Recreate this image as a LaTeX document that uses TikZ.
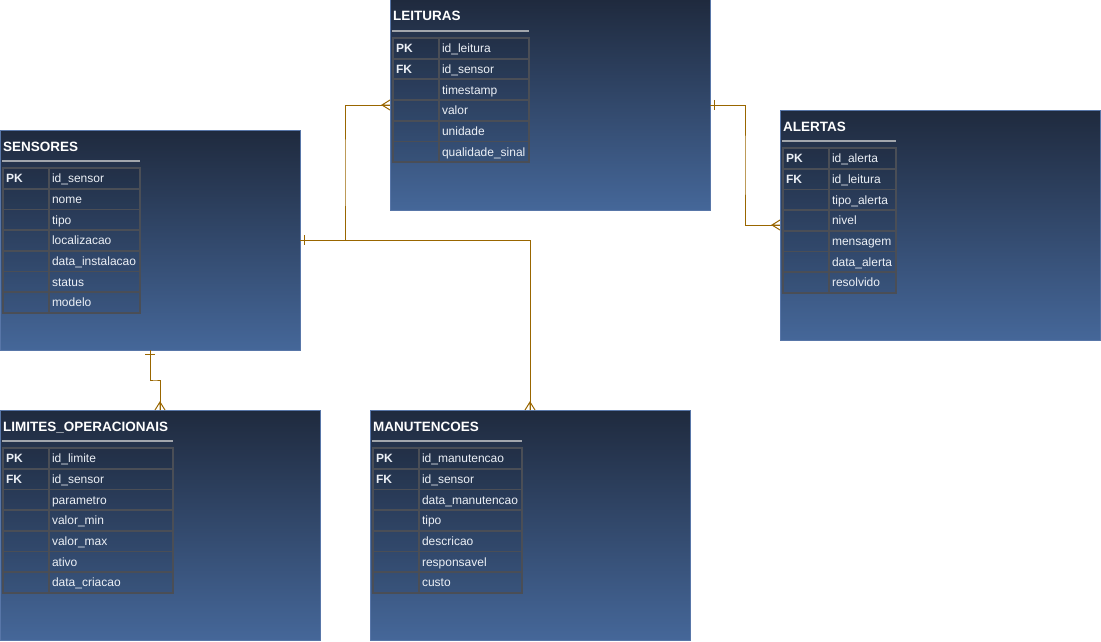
\documentclass[tikz,border=0pt]{standalone}
\usepackage{fontspec}
\setmainfont{Liberation Sans}
\usetikzlibrary{calc}

\definecolor{erTop}{RGB}{31,42,62}
\definecolor{erBottom}{RGB}{69,103,153}
\definecolor{erBorder}{RGB}{88,118,168}
\definecolor{erGrid}{RGB}{74,78,86}
\definecolor{erRule}{RGB}{162,166,172}
\definecolor{erText}{RGB}{236,240,246}
\definecolor{erLine}{RGB}{153,102,0}

% table: name, x, y, width, height, title, field column width, key/field list
\newcommand{\erTable}[8]{%
  \node[erBox,minimum width=#4,minimum height=#5] (#1) at (#2,#3) {};
  \node[erTitle] (#1-title) at ($(#1.north west)+(3,21)$) {#6};
  \draw[erRuleLine] ($(#1.north west)+(2,31)$) -- ++({#7+47},0);
  \pgfmathsetmacro\erTw{#7-6}
  \foreach \k/\f [count=\i] in {#8} {
    \pgfmathsetmacro\erRowY{38+20.7*(\i-1)}
    \node[erKey] (#1-k\i) at ($(#1.north west)+(3,\erRowY)$) {\k};
    \node[erField,minimum width=#7,text width=\erTw pt] (#1-f\i) at (#1-k\i.north east) {\f};
  }
}

\begin{document}
\begin{tikzpicture}[
    x=1pt, y=-1pt,
    erBox/.style={draw=erBorder,line width=1pt,top color=erTop,bottom color=erBottom,anchor=north west,inner sep=0pt,outer sep=0pt},
    erTitle/.style={anchor=base west,inner sep=0pt,text=white,font=\bfseries\fontsize{13.5}{16}\selectfont},
    erRuleLine/.style={draw=erRule,line width=2.5pt},
    erCell/.style={draw=erGrid,line width=1.8pt,fill=black,fill opacity=0.08,text opacity=1,anchor=north west,minimum height=20.7pt,inner xsep=3pt,inner ysep=0pt,outer sep=0pt,text height=8.6pt,text depth=0pt,text=erText,align=left},
    erKey/.style={erCell,minimum width=46pt,text width=40pt,font=\bfseries\fontsize{12}{14}\selectfont},
    erField/.style={erCell,font=\fontsize{12}{14}\selectfont},
    erLink/.style={draw=erLine,line width=1pt},
    erOne/.pic={\draw[erLink] (4,-5) -- (4,5);},
    erMany/.pic={\draw[erLink] (0,-5) -- (-8,0) -- (0,5) (-8,0) -- (0,0);},
]
\useasboundingbox (0,0) rectangle (1101,642);

\erTable{leituras}{390}{0}{320}{210}{LEITURAS}{90}{PK/id\_leitura, FK/id\_sensor, /timestamp, /valor, /unidade, /qualidade\_sinal}
\erTable{sensores}{0}{130}{300}{220}{SENSORES}{91}{PK/id\_sensor, /nome, /tipo, /localizacao, /data\_instalacao, /status, /modelo}
\erTable{alertas}{780}{110}{320}{230}{ALERTAS}{67}{PK/id\_alerta, FK/id\_leitura, /tipo\_alerta, /nivel, /mensagem, /data\_alerta, /resolvido}
\erTable{limites}{0}{410}{320}{230}{LIMITES\_OPERACIONAIS}{124}{PK/id\_limite, FK/id\_sensor, /parametro, /valor\_min, /valor\_max, /ativo, /data\_criacao}
\erTable{manutencoes}{370}{410}{320}{230}{MANUTENCOES}{103}{PK/id\_manutencao, FK/id\_sensor, /data\_manutencao, /tipo, /descricao, /responsavel, /custo}

% Relationships
\draw[erLink] (sensores.east) -| ($(sensores.east)!0.5!(leituras.west)$) |- (leituras.west);
\draw[erLink] (sensores.east) -| (manutencoes.north);
\draw[erLink] (leituras.east) -| ($(leituras.east)!0.5!(alertas.west)$) |- (alertas.west);
\draw[erLink] (sensores.south) |- ($(sensores.south)!0.5!(limites.north)$) -| (limites.north);
% End marks
\pic at (sensores.east) {erOne};
\pic at (leituras.east) {erOne};
\pic[rotate=-90] at (sensores.south) {erOne};
\pic at (leituras.west) {erMany};
\pic at (alertas.west) {erMany};
\pic[rotate=-90] at (manutencoes.north) {erMany};
\pic[rotate=-90] at (limites.north) {erMany};
\end{tikzpicture}
\end{document}
